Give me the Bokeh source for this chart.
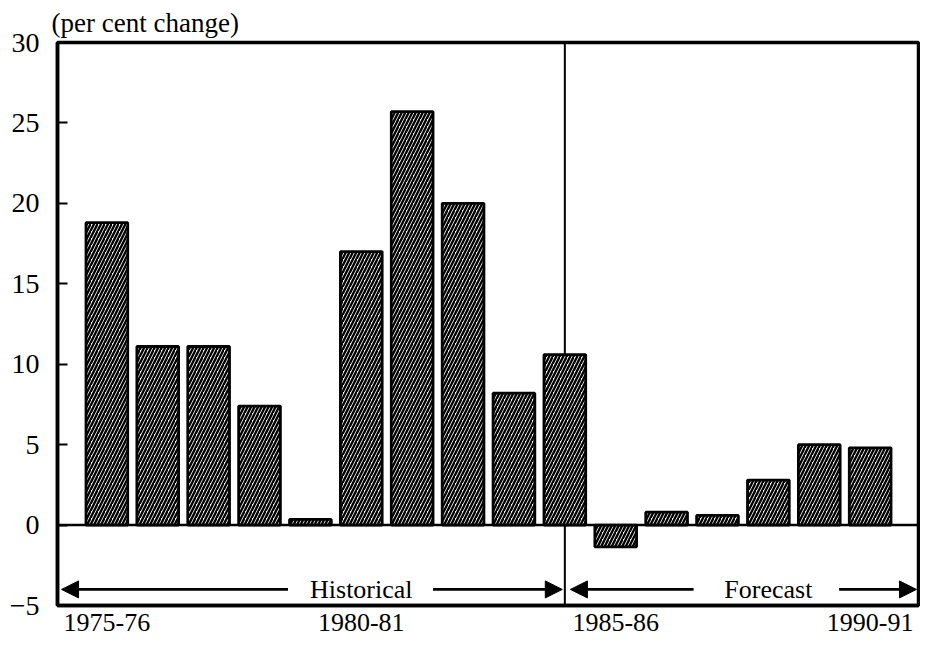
from bokeh.plotting import figure
from bokeh.models import Range1d, FixedTicker, Span, Arrow, NormalHead, ColumnDataSource
from bokeh.core.properties import value
from bokeh.embed import file_html
from bokeh.resources import INLINE

# ---- data ----
years = ["1975-76", "1976-77", "1977-78", "1978-79", "1979-80", "1980-81",
         "1981-82", "1982-83", "1983-84", "1984-85", "1985-86", "1986-87",
         "1987-88", "1988-89", "1989-90", "1990-91"]
changes = [18.8, 11.1, 11.1, 7.4, 0.35, 17.0, 25.7, 20.0, 8.2, 10.6,
           -1.35, 0.8, 0.6, 2.8, 5.0, 4.8]
labelled_years = ["1975-76", "1980-81", "1985-86", "1990-91"]
y_ticks = [-5, 0, 5, 10, 15, 20, 25, 30]
phase_names = ["Historical", "Forecast"]
phase_centres = [5.0, 13.0]
divider_index = 9
arrow_from = [3.56, 6.41, 11.53, 14.39]
arrow_to = [-0.89, 8.95, 9.11, 15.91]
arrow_level = -4.0
unit_label = "(per cent change)"

FONT = "Liberation Serif"
FS = "26px"
FS_Y = "28px"

xs = list(range(len(years)))
src = ColumnDataSource(dict(x=xs, v=changes))

p = figure(width=920, height=645, output_backend="svg", toolbar_location=None,
           x_range=Range1d(-0.97, 15.95), y_range=Range1d(-5, 30),
           min_border_left=57, min_border_right=2, min_border_top=42,
           min_border_bottom=40)

p.title.text = unit_label
p.title.text_font = FONT
p.title.text_font_size = "27px"
p.title.text_font_style = "normal"
p.title.text_color = "black"
p.title.align = "left"
p.title.offset = -6
p.title.standoff = 10

p.xgrid.visible = False
p.ygrid.visible = False
p.outline_line_color = "black"
p.outline_line_width = 3.5
p.background_fill_color = "white"
p.border_fill_color = "white"

# divider line (behind bars)
p.add_layout(Span(location=divider_index, dimension="height", line_color="black",
                  line_width=2, level="underlay"))

p.vbar(x="x", top="v", bottom=0, width=0.82, source=src,
       fill_color="white", line_color="black", line_width=2.8,
       hatch_pattern="/", hatch_color="black", hatch_scale=7, hatch_weight=2.4)

# zero line
p.add_layout(Span(location=0, dimension="width", line_color="black", line_width=2.5))

# arrows
asrc = ColumnDataSource(dict(x0=arrow_from, x1=arrow_to,
                             y0=[arrow_level] * len(arrow_from),
                             y1=[arrow_level] * len(arrow_from)))
p.add_layout(Arrow(source=asrc, x_start="x0", x_end="x1", y_start="y0", y_end="y1",
                   line_color="black", line_width=2.8,
                   end=NormalHead(size=17, fill_color="black", line_color="black",
                                  line_width=1)))

psrc = ColumnDataSource(dict(x=phase_centres, y=[arrow_level] * 2, t=phase_names))
p.text(x="x", y="y", text="t", source=psrc, text_font=value(FONT),
       text_font_size=FS, text_align="center", text_baseline="middle",
       text_color="black")

# axes
ya = p.yaxis[0]
ya.ticker = FixedTicker(ticks=y_ticks)
ya.major_label_overrides = {t: ("\u2212" + str(-t) if t < 0 else str(t)) for t in y_ticks}
ya.major_tick_in = 10
ya.major_tick_out = 0
ya.major_tick_line_width = 2
ya.minor_tick_line_color = None
ya.axis_line_width = 3.5
ya.major_label_text_font = FONT
ya.major_label_text_font_size = FS_Y
ya.major_label_text_color = "black"
ya.major_label_standoff = 18

xa = p.xaxis[0]
tick_pos = [years.index(y) for y in labelled_years]
xa.ticker = FixedTicker(ticks=tick_pos)
xa.major_label_overrides = {i: years[i] for i in tick_pos}
xa.major_tick_in = 0
xa.major_tick_out = 0
xa.minor_tick_line_color = None
xa.axis_line_width = 3.5
xa.major_label_text_font = FONT
xa.major_label_text_font_size = FS
xa.major_label_text_color = "black"
xa.major_label_standoff = 8

open("out.html", "w").write(file_html(p, INLINE))
